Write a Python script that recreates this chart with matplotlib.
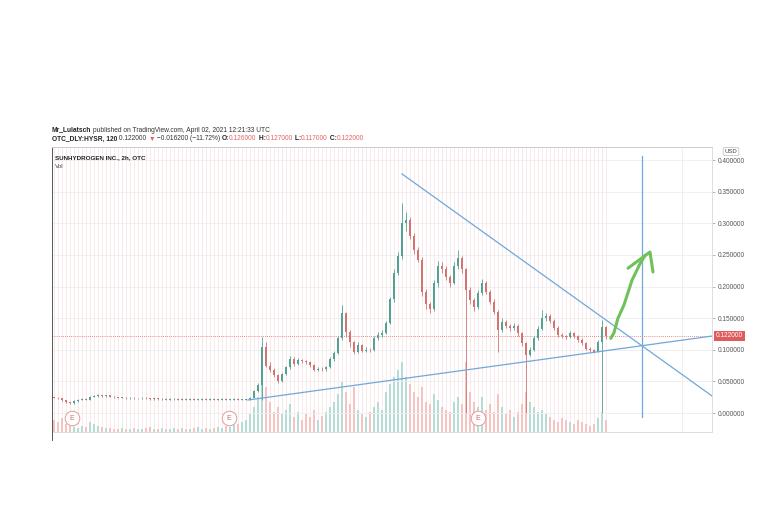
import numpy as np
import matplotlib.pyplot as plt
from matplotlib.transforms import blended_transform_factory
from matplotlib.lines import Line2D

plt.rcParams['font.family'] = ['Liberation Sans', 'DejaVu Sans']

# 2h candles, SUNHYDROGEN (HYSR)
close = [0.024, 0.023, 0.020, 0.017, 0.016, 0.019, 0.021, 0.022, 0.021, 0.026,
         0.027, 0.028, 0.027, 0.028, 0.026, 0.025, 0.024, 0.024, 0.023, 0.024,
         0.023, 0.023, 0.024, 0.023, 0.022, 0.023, 0.022, 0.022, 0.021, 0.022,
         0.022, 0.021, 0.022, 0.021, 0.022, 0.021, 0.021, 0.022, 0.021, 0.022,
         0.021, 0.021, 0.022, 0.021, 0.021, 0.022, 0.021, 0.021, 0.021, 0.024,
         0.035, 0.044, 0.104, 0.075, 0.068, 0.060, 0.050, 0.062, 0.072, 0.086,
         0.078, 0.084, 0.082, 0.080, 0.076, 0.068, 0.070, 0.069, 0.073, 0.085,
         0.095, 0.118, 0.158, 0.128, 0.112, 0.097, 0.107, 0.098, 0.100, 0.099,
         0.118, 0.124, 0.127, 0.142, 0.180, 0.222, 0.248, 0.300, 0.305, 0.280,
         0.258, 0.242, 0.192, 0.172, 0.165, 0.205, 0.232, 0.228, 0.215, 0.206,
         0.232, 0.245, 0.228, 0.195, 0.178, 0.168, 0.190, 0.205, 0.192, 0.176,
         0.160, 0.132, 0.144, 0.138, 0.134, 0.138, 0.126, 0.110, 0.092, 0.100,
         0.118, 0.133, 0.150, 0.153, 0.146, 0.135, 0.124, 0.121, 0.120, 0.126,
         0.121, 0.116, 0.110, 0.102, 0.100, 0.097, 0.112, 0.136, 0.122]
high = [0.026, 0.025, 0.024, 0.021, 0.018, 0.020, 0.022, 0.023, 0.023, 0.027,
        0.029, 0.030, 0.029, 0.029, 0.029, 0.027, 0.026, 0.025, 0.025, 0.025,
        0.025, 0.024, 0.025, 0.025, 0.024, 0.024, 0.024, 0.023, 0.023, 0.023,
        0.023, 0.023, 0.023, 0.023, 0.023, 0.023, 0.022, 0.023, 0.023, 0.023,
        0.023, 0.022, 0.023, 0.023, 0.022, 0.023, 0.023, 0.022, 0.022, 0.026,
        0.037, 0.048, 0.120, 0.112, 0.080, 0.071, 0.062, 0.064, 0.075, 0.090,
        0.088, 0.087, 0.086, 0.084, 0.082, 0.078, 0.073, 0.072, 0.075, 0.088,
        0.098, 0.122, 0.171, 0.160, 0.131, 0.114, 0.112, 0.109, 0.104, 0.103,
        0.121, 0.128, 0.131, 0.146, 0.184, 0.228, 0.255, 0.332, 0.318, 0.310,
        0.284, 0.262, 0.246, 0.196, 0.176, 0.210, 0.240, 0.238, 0.232, 0.218,
        0.238, 0.258, 0.248, 0.230, 0.200, 0.182, 0.195, 0.212, 0.208, 0.195,
        0.180, 0.163, 0.150, 0.147, 0.141, 0.142, 0.140, 0.128, 0.112, 0.104,
        0.121, 0.137, 0.163, 0.158, 0.156, 0.148, 0.137, 0.127, 0.124, 0.129,
        0.128, 0.123, 0.118, 0.112, 0.104, 0.102, 0.115, 0.147, 0.138]
low = [0.023, 0.022, 0.019, 0.016, 0.015, 0.015, 0.018, 0.020, 0.020, 0.020,
       0.025, 0.026, 0.026, 0.026, 0.025, 0.024, 0.023, 0.023, 0.022, 0.022,
       0.022, 0.022, 0.022, 0.022, 0.021, 0.021, 0.021, 0.021, 0.020, 0.020,
       0.021, 0.020, 0.020, 0.020, 0.020, 0.020, 0.020, 0.020, 0.020, 0.020,
       0.020, 0.020, 0.020, 0.020, 0.020, 0.020, 0.020, 0.020, 0.020, 0.020,
       0.023, 0.033, 0.020, 0.072, 0.065, 0.057, 0.048, 0.049, 0.060, 0.070,
       0.075, 0.076, 0.079, 0.077, 0.073, 0.066, 0.066, 0.067, 0.067, 0.071,
       0.083, 0.093, 0.115, 0.120, 0.105, 0.094, 0.095, 0.096, 0.096, 0.097,
       0.098, 0.115, 0.120, 0.125, 0.140, 0.176, 0.218, 0.244, 0.288, 0.275,
       0.252, 0.238, 0.185, 0.165, 0.158, 0.162, 0.200, 0.222, 0.210, 0.200,
       0.204, 0.228, 0.222, 0.000, 0.172, 0.162, 0.165, 0.186, 0.188, 0.172,
       0.156, 0.096, 0.128, 0.134, 0.130, 0.131, 0.122, 0.106, 0.000, 0.090,
       0.098, 0.116, 0.131, 0.146, 0.142, 0.131, 0.120, 0.118, 0.117, 0.118,
       0.118, 0.113, 0.107, 0.099, 0.097, 0.095, 0.096, 0.000, 0.117]
volume = [12, 10, 14, 8, 6, 5, 4, 6, 5, 10,
          8, 6, 5, 4, 4, 3, 3, 4, 3, 3,
          4, 3, 3, 4, 5, 3, 3, 4, 3, 3,
          4, 3, 4, 3, 3, 4, 5, 3, 4, 3,
          4, 5, 4, 6, 5, 7, 8, 10, 12, 18,
          25, 35, 60, 45, 30, 20, 25, 18, 22, 28,
          15, 20, 12, 18, 15, 22, 12, 16, 20, 25,
          30, 38, 50, 40, 28, 45, 22, 18, 15, 20,
          25, 30, 22, 40, 48, 55, 62, 70, 55, 48,
          40, 35, 45, 30, 28, 38, 32, 25, 22, 20,
          30, 35, 28, 70, 40, 30, 25, 35, 22, 28,
          20, 38, 25, 18, 22, 15, 20, 28, 40, 30,
          25, 20, 22, 18, 15, 12, 10, 14, 12, 10,
          8, 12, 10, 8, 6, 8, 14, 20, 12]
open_ = [0.025] + close[:-1]

price_ticks = [0.0, 0.05, 0.10, 0.15, 0.20, 0.25, 0.30, 0.35, 0.40]
earnings_bars = [4.5, 43.75, 106]

# drawings on the chart (bar index, price)
down_line_x = [87, 164.5]
down_line_y = [0.378, 0.027]
up_line_x = [48.5, 164.5]
up_line_y = [0.0206, 0.1217]
vline_x = 146.9
vline_y = [0.406, -0.006]
arrow_x = [139.2, 140.0, 141.0, 142.5, 144.5, 146.5, 147.75]
arrow_y = [0.118, 0.127, 0.150, 0.171, 0.210, 0.236, 0.249]
head_x = [143.5, 149.0, 149.75]
head_y = [0.229, 0.2546, 0.223]

W, H = 768, 525
fig = plt.figure(figsize=(7.68, 5.25), dpi=100)
fig.patch.set_facecolor('white')


def fx(px):
    return px / W


def fy(py):
    return 1 - py / H


pos = [fx(52), fy(432), fx(712) - fx(52), fy(147) - fy(432)]
axv = fig.add_axes(pos)
ax = fig.add_axes(pos)
ax.patch.set_visible(False)

n = len(close)
idx = np.arange(n)
up = np.array(close) >= np.array(open_)

for a in (ax, axv):
    a.set_xlim(-0.5, 164.5)
ax.set_ylim(-0.030, 0.4206)
axv.set_ylim(0, 285)

# background grid
for i in idx:
    axv.axvline(i, color='#f8e7e7', lw=0.6, zorder=0)
for gx in range(17, 165, 20):
    axv.axvline(gx, color='#ebebeb', lw=0.6, zorder=0)
for p in price_ticks:
    ax.axhline(p, color='#eeeeee', lw=0.6, zorder=0)

# volume
vcol = np.where(up, '#b5ddd6', '#f5c4c2')
axv.bar(idx, volume, width=0.45, color=vcol, zorder=1)

# candles
ccol = np.where(up, '#55a193', '#d57371')
body_lo = np.minimum(open_, close)
body_h = np.maximum(np.abs(np.array(close) - np.array(open_)), 0.0008)
ax.vlines(idx, low, high, colors=ccol, lw=0.6, zorder=3)
ax.bar(idx, body_h, bottom=body_lo, width=0.5, color=ccol, zorder=4)

# last price line
ax.axhline(close[-1], color='#e06666', lw=0.6, ls=(0, (1, 1.5)), zorder=2)

# trend lines, vertical marker and hand drawn arrow
ax.plot(down_line_x, down_line_y, color='#6fa8dc', lw=0.9, zorder=5)
ax.plot(up_line_x, up_line_y, color='#6fa8dc', lw=0.9, zorder=5)
ax.plot([vline_x, vline_x], vline_y, color='#6fa8dc', lw=0.9, zorder=5)
ax.plot(arrow_x, arrow_y, color='#6ec259', lw=2.2, solid_capstyle='round',
        solid_joinstyle='round', zorder=6)
ax.plot(head_x, head_y, color='#6ec259', lw=2.2, solid_capstyle='round',
        solid_joinstyle='round', zorder=6)

# earnings markers
ax.scatter(earnings_bars, [-0.0079] * len(earnings_bars), s=110, facecolors='white',
           edgecolors='#e39a9a', lw=0.7, zorder=7)
for e in earnings_bars:
    ax.text(e, -0.0079, 'E', ha='center', va='center', fontsize=5,
            color='#d46a6a', zorder=8)

# axes styling
ax.set_xticks([])
axv.set_xticks([])
axv.set_yticks([])
ax.yaxis.tick_right()
ax.set_yticks(price_ticks)
ax.set_yticklabels([f'{p:.6f}' for p in price_ticks], fontsize=4.7, color='#555555')
ax.tick_params(axis='y', length=2, width=0.5, color='#999999', pad=2)
for s in axv.spines.values():
    s.set_visible(False)
ax.spines['top'].set_color('#cccccc')
ax.spines['right'].set_color('#dddddd')
ax.spines['bottom'].set_color('#dddddd')
ax.spines['left'].set_color('#555555')
for s in ax.spines.values():
    s.set_linewidth(0.7)
fig.add_artist(Line2D([fx(52), fx(52)], [fy(432), fy(440)], color='#555555', lw=0.7))

# last price tag
tr = blended_transform_factory(ax.transAxes, ax.transData)
ax.text(1.0 + 4 / 660, close[-1], f'{close[-1]:.6f}', transform=tr, ha='left',
        va='center', color='white', fontsize=4.7, zorder=9, clip_on=False,
        bbox=dict(facecolor='#e05c5c', edgecolor='none', pad=1.3))

fig.text(fx(731), fy(151.5), 'USD', fontsize=4.3, ha='center', va='center', color='#444444',
         bbox=dict(boxstyle='round,pad=0.25', fc='white', ec='#bbbbbb', lw=0.5))

# header text
renderer = fig.canvas.get_renderer()


def chain(px, py, parts, size):
    x = fx(px)
    for s, color, weight in parts:
        t = fig.text(x, fy(py), s, color=color, fontsize=size, fontweight=weight,
                     ha='left', va='center')
        bb = t.get_window_extent(renderer)
        x += bb.width / fig.bbox.width


red = '#e06666'
chain(52, 130, [('Mr_Lulatsch', '#222222', 'bold'),
                (' published on TradingView.com, April 02, 2021 12:21:33 UTC', '#333333', 'normal')], 4.8)
chain(52, 139, [('OTC_DLY:HYSR, 120', '#222222', 'bold'),
                (' 0.122000 ', '#333333', 'normal'),
                ('▼', red, 'normal'),
                (' \u22120.016200 (\u221211.72%) ', '#333333', 'normal'),
                ('O:', '#222222', 'bold'), ('0.126000', red, 'normal'),
                (' H:', '#222222', 'bold'), ('0.127000', red, 'normal'),
                (' L:', '#222222', 'bold'), ('0.117000', red, 'normal'),
                (' C:', '#222222', 'bold'), ('0.122000', red, 'normal')], 4.8)
chain(55, 158, [('SUNHYDROGEN INC., 2h, OTC', '#222222', 'bold')], 4.5)
chain(55, 167, [('Vol', '#444444', 'normal')], 4.5)

fig.savefig('out.png', dpi=100, facecolor='white')
